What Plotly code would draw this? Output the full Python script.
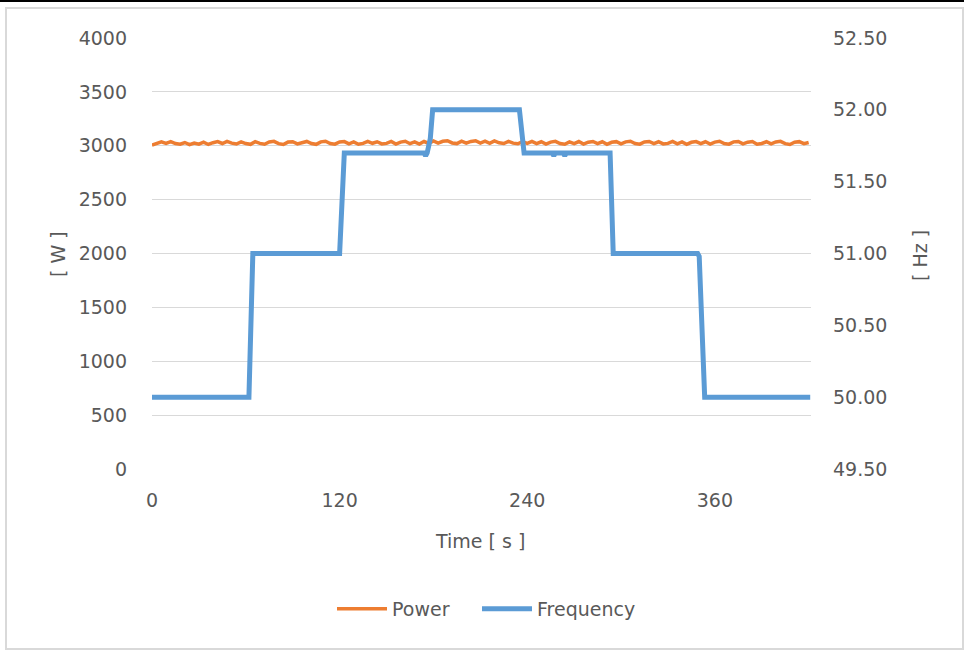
import plotly.graph_objects as go

# ---- data ----
sample_step_s = 3
power_w = [
    3005, 3024, 3036, 3022, 3039, 3020, 3014, 3030, 3010, 3025,
    3015, 3033, 3012, 3028, 3038, 3021, 3040, 3024, 3016, 3036,
    3020, 3013, 3038, 3022, 3014, 3035, 3041, 3020, 3012, 3034,
    3037, 3017, 3031, 3040, 3020, 3013, 3036, 3042, 3021, 3015,
    3035, 3039, 3018, 3036, 3014, 3022, 3041, 3023, 3037, 3017,
    3022, 3040, 3016, 3034, 3042, 3019, 3036, 3015, 3039, 3021,
    3044, 3024, 3041, 3047, 3026, 3020, 3043, 3024, 3040, 3046,
    3025, 3042, 3022, 3045, 3027, 3021, 3041, 3024, 3018, 3038,
    3022, 3040, 3019, 3037, 3016, 3034, 3041, 3021, 3014, 3036,
    3020, 3039, 3015, 3033, 3040, 3019, 3037, 3013, 3032, 3038,
    3018, 3036, 3042, 3021, 3015, 3035, 3040, 3020, 3037, 3017,
    3022, 3041, 3018, 3036, 3013, 3032, 3039, 3019, 3037, 3016,
    3034, 3042, 3020, 3015, 3036, 3040, 3018, 3033, 3039, 3014,
    3021, 3037, 3017, 3035, 3041, 3020, 3012, 3033, 3038, 3019,
    3030,
]
power_time_s = [i * sample_step_s for i in range(len(power_w))]

freq_time_s = [0, 62, 64.5, 120, 123, 174, 175, 176, 178, 179.5, 235, 238,
               256, 257, 258, 263, 264, 265, 293, 295, 349, 350, 353.5, 421]
freq_hz = [50.0, 50.0, 51.0, 51.0, 51.7, 51.7, 51.68, 51.7, 51.8, 52.0, 52.0, 51.7,
           51.7, 51.68, 51.7, 51.7, 51.68, 51.7, 51.7, 51.0, 51.0, 50.98, 50.0, 50.0]

x_ticks = [0, 120, 240, 360]
w_ticks = [0, 500, 1000, 1500, 2000, 2500, 3000, 3500, 4000]
hz_ticks = [49.5, 50.0, 50.5, 51.0, 51.5, 52.0, 52.5]

# ---- figure ----
W, H = 964, 653
ML, MR, MT, MB = 152, 153, 38, 184
PW, PH = W - ML - MR, H - MT - MB
def px(x):
    return (x - ML) / PW
def py(y):
    return (H - MB - y) / PH

txt = "#595959"
font = "DejaVu Sans, sans-serif"
FS = 19

fig = go.Figure()
fig.add_trace(go.Scatter(x=power_time_s, y=power_w, name="Power", mode="lines",
                         line=dict(color="#ED7D31", width=3.5), yaxis="y",
                         legend="legend"))
fig.add_trace(go.Scatter(x=freq_time_s, y=freq_hz, name="Frequency", mode="lines",
                         line=dict(color="#5B9BD5", width=5), yaxis="y2",
                         legend="legend2"))

leg_common = dict(orientation="h", yanchor="middle", xanchor="left",
                  font=dict(size=FS, color=txt), itemwidth=50,
                  bgcolor="rgba(0,0,0,0)")

fig.update_layout(
    width=W, height=H,
    margin=dict(l=ML, r=MR, t=MT, b=MB, pad=0),
    paper_bgcolor="white", plot_bgcolor="white",
    font=dict(family=font, size=FS, color=txt),
    showlegend=True,
    legend=dict(x=px(332), y=py(609), **leg_common),
    legend2=dict(x=px(477), y=py(609), **leg_common),
    xaxis=dict(range=[0, 421.5], tickvals=x_ticks, showgrid=False, zeroline=False,
               showline=False, ticks="", ticklabelstandoff=18,
               tickfont=dict(size=FS, color=txt)),
    yaxis=dict(range=[0, 4000], tickvals=w_ticks, showgrid=True, gridcolor="#d9d9d9",
               gridwidth=1, zeroline=False, showline=False, ticks="",
               ticklabelstandoff=24, tickfont=dict(size=FS, color=txt)),
    yaxis2=dict(range=[49.5, 52.5], tickvals=hz_ticks, tickformat=".2f",
                overlaying="y", side="right", showgrid=False, zeroline=False,
                showline=False, ticks="", ticklabelstandoff=21,
                tickfont=dict(size=FS, color=txt)),
    annotations=[
        dict(text="[ W ]", x=px(58), y=py(254), xref="paper", yref="paper",
             xanchor="center", yanchor="middle",
             textangle=-90, showarrow=False, font=dict(size=FS, color=txt)),
        dict(text="[ Hz ]", x=px(920), y=py(256), xref="paper", yref="paper",
             xanchor="center", yanchor="middle",
             textangle=-90, showarrow=False, font=dict(size=FS, color=txt)),
        dict(text="Time [ s ]", x=px(480), y=py(541), xref="paper", yref="paper",
             xanchor="center", yanchor="middle",
             showarrow=False, font=dict(size=FS, color=txt)),
    ],
    shapes=[
        dict(type="rect", xref="paper", yref="paper", x0=px(6), x1=px(963),
             y0=py(649), y1=py(8), line=dict(color="#d9d9d9", width=2), layer="below"),
        dict(type="line", xref="paper", yref="paper", x0=px(0), x1=px(964),
             y0=py(1), y1=py(1), line=dict(color="black", width=2)),
    ],
)

fig.write_html("out.html", config={"displayModeBar": False},
               post_script="document.body.style.margin='0';document.body.style.overflow='hidden';")
